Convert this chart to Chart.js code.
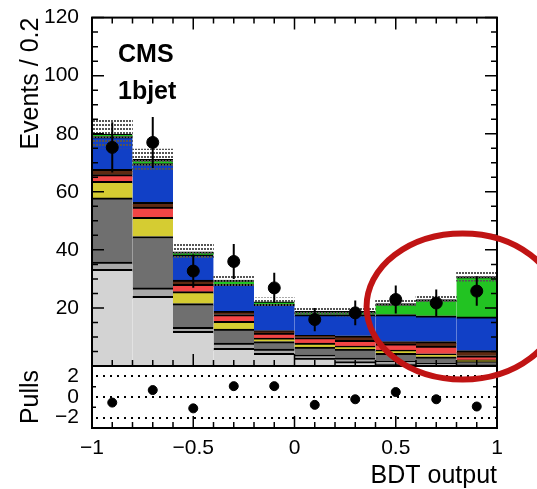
<!DOCTYPE html>
<html>
<head>
<meta charset="utf-8">
<title>BDT output, 1bjet</title>
<script src="https://cdn.jsdelivr.net/npm/chart.js@4.4.1/dist/chart.umd.min.js"></script>
<style>
    html, body { margin: 0; padding: 0; background: #fff; }
    #wrap { position: relative; width: 537px; height: 489px; overflow: hidden; }
    #main-box, #pull-box { position: absolute; left: 0; width: 537px; }
    #main-box { top: 0; height: 489px; z-index: 2; }
    #pull-box { top: 366px; height: 123px; z-index: 1; }
</style>
</head>
<body>
<div id="wrap">
    <div id="pull-box"><canvas id="pull-chart"></canvas></div>
    <div id="main-box"><canvas id="main-chart"></canvas></div>
</div>
<script>
// bin centres of the BDT output histogram (width 0.2)
const binCenters = [-0.9, -0.7, -0.5, -0.3, -0.1, 0.1, 0.3, 0.5, 0.7, 0.9];

// stacked components, bottom to top (events per bin)
const lightGray = [33.3, 24.0, 11.9, 6.1, 4.4, 2.7, 1.5, 0.7, 0.3, 0.2];
const midGray   = [2.5, 2.9, 1.4, 1.8, 1.4, 1.1, 1.2, 1.1, 0.6, 0.4];
const darkGray  = [22.1, 17.7, 8.2, 4.8, 2.6, 2.7, 3.1, 2.6, 2.3, 0.9];
const yellow    = [5.7, 6.6, 4.1, 2.7, 1.2, 1.4, 1.1, 1.1, 1.0, 0.6];
const red       = [2.3, 3.5, 2.5, 2.3, 1.7, 1.9, 1.9, 2.1, 2.7, 1.4];
const brown     = [1.8, 1.7, 1.5, 1.1, 0.9, 0.8, 1.6, 0.8, 1.5, 1.8];
const blue      = [11.3, 13.3, 8.7, 9.3, 9.0, 7.1, 7.3, 9.3, 8.9, 11.6];
const green     = [0.9, 1.5, 1.0, 1.5, 0.9, 1.1, 1.1, 3.8, 5.6, 13.9];

// uncertainty on the total prediction (half height of hatched band)
const mcUncert = [4.8, 3.5, 2.7, 2.0, 1.4, 1.2, 1.6, 1.1, 1.4, 1.6];

// data
const observed = [75.3, 77.0, 32.7, 36.0, 26.9, 16.0, 18.3, 22.9, 21.7, 25.8];
const pulls = [-0.54, 0.67, -1.1, 1.05, 1.05, -0.76, -0.22, 0.48, -0.22, -0.92];

// axis ticks
const xTicks = [-1, -0.5, 0, 0.5, 1];
const yTicks = [20, 40, 60, 80, 100, 120];
const pullTicks = [-2, 0, 2];

const FONT = "'Liberation Sans', Arial, Helvetica, sans-serif";

const layers = [
    { data: lightGray, color: '#d3d3d3' },
    { data: midGray, color: '#a8a8a8' },
    { data: darkGray, color: '#6f6f6f' },
    { data: yellow, color: '#d5cc32' },
    { data: red, color: '#f24545' },
    { data: brown, color: '#5e2a12' },
    { data: blue, color: '#1140c6' },
    { data: green, color: '#22c322' }
];

const totals = binCenters.map((_, i) => layers.reduce((s, l) => s + l.data[i], 0));

function minusSign(v) {
    return v < 0 ? '\u2212' + Math.abs(v) : String(v);
}

function dotPattern() {
    const c = document.createElement('canvas');
    c.width = 3;
    c.height = 4;
    const g = c.getContext('2d');
    g.fillStyle = '#555';
    g.fillRect(0, 0, 2, 2);
    return document.createElement('canvas').getContext('2d').createPattern(c, 'repeat');
}

// frame with inward ticks, dotted reference lines, labels, annotation circle
const framePlugin = {
    id: 'frame',
    beforeDatasetsDraw(chart, args, o) {
        if (!o.refLines) return;
        const { ctx, chartArea: a } = chart;
        const y = chart.scales.y;
        ctx.save();
        ctx.strokeStyle = '#000';
        ctx.lineWidth = 2;
        ctx.setLineDash([2, 5]);
        o.refLines.forEach(v => {
            const py = Math.round(y.getPixelForValue(v));
            ctx.beginPath();
            ctx.moveTo(a.left + 4, py);
            ctx.lineTo(a.right, py);
            ctx.stroke();
        });
        ctx.restore();
    },
    afterDatasetsDraw(chart, args, o) {
        const { ctx, chartArea: a } = chart;
        const x = chart.scales.x;
        const y = chart.scales.y;
        const isMajor = (v, step) => Math.abs(v / step - Math.round(v / step)) < 1e-6;
        ctx.save();
        ctx.strokeStyle = '#000';
        ctx.lineWidth = 1.5;
        ctx.beginPath();
        let n = Math.round((x.max - x.min) / o.xStep);
        for (let i = 0; i <= n; i++) {
            const v = x.min + i * o.xStep;
            const px = x.getPixelForValue(v);
            const len = isMajor(v, o.xMajor) ? o.xLen : o.xLen / 2;
            ctx.moveTo(px, a.bottom);
            ctx.lineTo(px, a.bottom - len);
            if (o.topTicks) {
                ctx.moveTo(px, a.top);
                ctx.lineTo(px, a.top + len);
            }
        }
        n = Math.round((y.max - y.min) / o.yStep);
        for (let i = 0; i <= n; i++) {
            const v = y.min + i * o.yStep;
            const py = y.getPixelForValue(v);
            const len = isMajor(v, o.yMajor) ? o.yLen : o.yLen / 2;
            ctx.moveTo(a.left, py);
            ctx.lineTo(a.left + len, py);
            ctx.moveTo(a.right, py);
            ctx.lineTo(a.right - len, py);
        }
        ctx.stroke();
        ctx.lineWidth = 2;
        ctx.strokeRect(a.left, a.top, a.right - a.left, a.bottom - a.top);

        if (o.labels) {
            ctx.fillStyle = '#000';
            ctx.font = 'bold 25px ' + FONT;
            ctx.textBaseline = 'alphabetic';
            o.labels.forEach((t, i) => ctx.fillText(t, a.left + 26, a.top + 44 + i * 37));
        }
        ctx.restore();
    },
    afterDraw(chart, args, o) {
        if (!o.circle) return;
        const { ctx } = chart;
        const c = o.circle;
        ctx.save();
        ctx.strokeStyle = '#c01414';
        ctx.lineWidth = 6;
        ctx.beginPath();
        ctx.ellipse(chart.scales.x.getPixelForValue(c.x), chart.scales.y.getPixelForValue(c.y),
            c.rx, c.ry, 0, 0, Math.PI * 2);
        ctx.stroke();
        ctx.restore();
    }
};

function renderMain() {
    const datasets = [];

    datasets.push({
        type: 'scatter',
        stack: 'pts',
        data: binCenters.map((x, i) => ({ x, y: observed[i] })),
        backgroundColor: '#000',
        borderColor: '#000',
        pointRadius: 6,
        pointHoverRadius: 6
    });

    datasets.push({
        type: 'bar',
        stack: 'err',
        grouped: false,
        data: binCenters.map((x, i) => ({
            x, y: [observed[i] - Math.sqrt(observed[i]), observed[i] + Math.sqrt(observed[i])]
        })),
        backgroundColor: '#000',
        borderWidth: 0,
        maxBarThickness: 2
    });

    datasets.push({
        type: 'bar',
        stack: 'unc',
        grouped: false,
        data: binCenters.map((x, i) => ({ x, y: [totals[i] - mcUncert[i], totals[i] + mcUncert[i]] })),
        backgroundColor: dotPattern(),
        borderWidth: 0,
        barPercentage: 1,
        categoryPercentage: 1
    });

    layers.forEach(l => {
        datasets.push({
            type: 'bar',
            stack: 'mc',
            grouped: false,
            data: binCenters.map((x, i) => ({ x, y: l.data[i] })),
            backgroundColor: l.color,
            borderColor: '#000',
            borderWidth: { top: 2, right: 0, bottom: 0, left: 0 },
            borderSkipped: false,
            barPercentage: 1,
            categoryPercentage: 1
        });
    });

    new Chart(document.getElementById('main-chart'), {
        type: 'bar',
        data: { datasets },
        options: {
            responsive: true,
            maintainAspectRatio: false,
            animation: false,
            layout: { autoPadding: false, padding: { top: 17, right: 40, bottom: 123, left: 0 } },
            plugins: {
                legend: { display: false },
                tooltip: { enabled: false },
                frame: {
                    xStep: 0.1, xMajor: 0.5, xLen: 12, topTicks: true,
                    yStep: 5, yMajor: 20, yLen: 12,
                    labels: ['CMS', '1bjet'],
                    circle: { x: 0.83, y: 20.5, rx: 96, ry: 73 }
                }
            },
            scales: {
                x: {
                    type: 'linear',
                    min: -1,
                    max: 1,
                    offset: false,
                    display: false,
                    afterBuildTicks: s => { s.ticks = xTicks.map(v => ({ value: v })); }
                },
                y: {
                    type: 'linear',
                    min: 0,
                    max: 120,
                    stacked: true,
                    grid: { display: false },
                    border: { display: false },
                    afterBuildTicks: s => { s.ticks = yTicks.map(v => ({ value: v })); },
                    afterFit: s => { s.width = 92; },
                    ticks: { color: '#000', padding: 5, font: { family: FONT, size: 21 } },
                    title: {
                        display: true,
                        text: 'Events / 0.2',
                        align: 'end',
                        color: '#000',
                        padding: { top: 16, bottom: 0 },
                        font: { family: FONT, size: 25 }
                    }
                }
            }
        },
        plugins: [framePlugin]
    });
}

function renderPulls() {
    new Chart(document.getElementById('pull-chart'), {
        type: 'scatter',
        data: {
            datasets: [{
                data: binCenters.map((x, i) => ({ x, y: pulls[i] })),
                backgroundColor: '#000',
                borderColor: '#000',
                pointRadius: 4.5,
                pointHoverRadius: 4.5
            }]
        },
        options: {
            responsive: true,
            maintainAspectRatio: false,
            animation: false,
            layout: { autoPadding: false, padding: { top: 0, right: 40, bottom: 0, left: 0 } },
            plugins: {
                legend: { display: false },
                tooltip: { enabled: false },
                frame: {
                    xStep: 0.1, xMajor: 0.5, xLen: 12, topTicks: false,
                    yStep: 2, yMajor: 2, yLen: 8,
                    refLines: pullTicks
                }
            },
            scales: {
                x: {
                    type: 'linear',
                    min: -1,
                    max: 1,
                    grid: { display: false },
                    border: { display: false },
                    afterBuildTicks: s => { s.ticks = xTicks.map(v => ({ value: v })); },
                    afterFit: s => { s.height = 61; s.paddingLeft = 0; s.paddingRight = 0; },
                    ticks: {
                        color: '#000',
                        padding: 0,
                        maxRotation: 0,
                        autoSkip: false,
                        font: { family: FONT, size: 21 },
                        callback: v => minusSign(v)
                    },
                    title: {
                        display: true,
                        text: 'BDT output',
                        align: 'end',
                        color: '#000',
                        padding: { top: 0, bottom: 0 },
                        font: { family: FONT, size: 25, lineHeight: 1 }
                    }
                },
                y: {
                    type: 'linear',
                    min: -3,
                    max: 3,
                    grid: { display: false },
                    border: { display: false },
                    afterBuildTicks: s => { s.ticks = pullTicks.map(v => ({ value: v })); },
                    afterFit: s => { s.width = 92; s.paddingTop = 0; s.paddingBottom = 0; },
                    ticks: {
                        color: '#000',
                        padding: 5,
                        autoSkip: false,
                        font: { family: FONT, size: 21 },
                        callback: v => minusSign(v)
                    },
                    title: {
                        display: true,
                        text: 'Pulls',
                        color: '#000',
                        padding: { top: 16, bottom: 0 },
                        font: { family: FONT, size: 25 }
                    }
                }
            }
        },
        plugins: [framePlugin]
    });
}

renderPulls();
renderMain();
</script>
</body>
</html>
